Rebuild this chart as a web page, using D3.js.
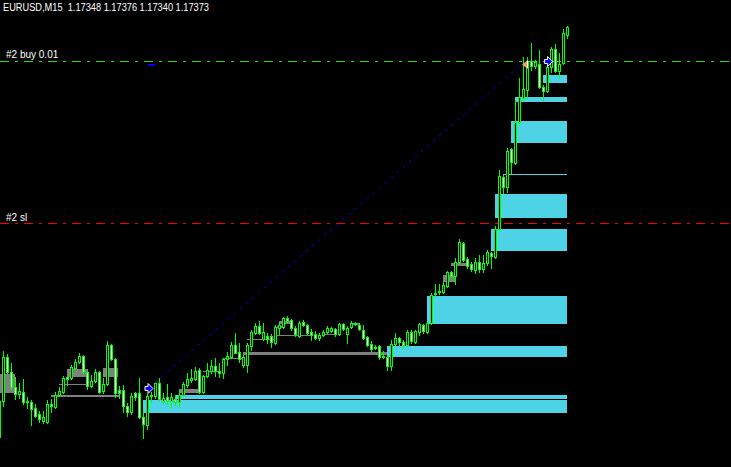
<!DOCTYPE html>
<html>
<head>
<meta charset="utf-8">
<script src="https://cdn.jsdelivr.net/npm/d3@7"></script>
<style>
  html, body { margin: 0; padding: 0; background: #000; overflow: hidden; }
  text { font-family: "Liberation Sans", Arial, sans-serif; white-space: pre; }
</style>
</head>
<body>
<div id="chart"></div>
<script>
// EURUSD M15 candles, first entry is the bar cut off at the left edge (index -1).
const opens = [1.16143,
  1.16251,1.16383,1.16338,1.16293,1.16272,1.16278,1.16248,1.16248,1.16230,1.16212,
  1.16191,1.16188,1.16242,1.16233,1.16269,1.16278,1.16323,1.16320,1.16350,1.16368,
  1.16386,1.16338,1.16296,1.16311,1.16338,1.16281,1.16302,1.16419,1.16377,1.16284,
  1.16284,1.16236,1.16218,1.16275,1.16275,1.16203,1.16179,1.16266,1.16266,1.16305,
  1.16251,1.16263,1.16251,1.16257,1.16248,1.16269,1.16299,1.16314,1.16317,1.16344,
  1.16278,1.16326,1.16341,1.16356,1.16341,1.16335,1.16377,1.16383,1.16419,1.16398,
  1.16359,1.16359,1.16416,1.16455,1.16476,1.16437,1.16446,1.16446,1.16425,1.16470,
  1.16473,1.16500,1.16494,1.16470,1.16446,1.16488,1.16479,1.16458,1.16452,1.16440,
  1.16449,1.16458,1.16461,1.16467,1.16452,1.16482,1.16452,1.16473,1.16485,1.16479,
  1.16464,1.16443,1.16422,1.16413,1.16416,1.16383,1.16383,1.16356,1.16422,1.16440,
  1.16428,1.16419,1.16458,1.16428,1.16458,1.16479,1.16458,1.16485,1.16572,1.16578,
  1.16578,1.16596,1.16638,1.16626,1.16668,1.16725,1.16677,1.16662,1.16644,1.16668,
  1.16647,1.16665,1.16695,1.16683,1.16767,1.16923,1.16893,1.17007,1.16965,1.17088,
  1.17160,1.17184,1.17271,1.17256,1.17262,1.17193,1.17181,1.17253,1.17307,1.17241,
  1.17265,1.17348];
const highs = [1.16254,
  1.16401,1.16392,1.16365,1.16323,1.16305,1.16317,1.16263,1.16254,1.16242,1.16221,
  1.16221,1.16254,1.16257,1.16278,1.16293,1.16326,1.16326,1.16359,1.16377,1.16395,
  1.16389,1.16341,1.16329,1.16347,1.16341,1.16320,1.16431,1.16422,1.16380,1.16296,
  1.16299,1.16245,1.16275,1.16278,1.16320,1.16215,1.16272,1.16278,1.16308,1.16320,
  1.16275,1.16302,1.16275,1.16269,1.16284,1.16308,1.16335,1.16347,1.16353,1.16350,
  1.16329,1.16365,1.16374,1.16380,1.16365,1.16380,1.16398,1.16428,1.16455,1.16425,
  1.16389,1.16425,1.16464,1.16485,1.16491,1.16485,1.16455,1.16452,1.16479,1.16488,
  1.16503,1.16506,1.16497,1.16476,1.16491,1.16494,1.16482,1.16467,1.16461,1.16455,
  1.16464,1.16476,1.16473,1.16470,1.16485,1.16485,1.16476,1.16491,1.16488,1.16485,
  1.16479,1.16446,1.16431,1.16419,1.16419,1.16401,1.16386,1.16434,1.16455,1.16443,
  1.16434,1.16464,1.16464,1.16464,1.16485,1.16482,1.16488,1.16575,1.16602,1.16602,
  1.16608,1.16641,1.16641,1.16680,1.16737,1.16728,1.16683,1.16668,1.16680,1.16689,
  1.16689,1.16704,1.16698,1.16776,1.16944,1.16929,1.17010,1.17010,1.17154,1.17220,
  1.17283,1.17283,1.17325,1.17274,1.17304,1.17199,1.17256,1.17313,1.17322,1.17295,
  1.17367,1.17376];
const lows = [1.16140,
  1.16236,1.16335,1.16287,1.16257,1.16260,1.16242,1.16230,1.16179,1.16203,1.16188,
  1.16185,1.16185,1.16218,1.16230,1.16266,1.16275,1.16299,1.16317,1.16347,1.16365,
  1.16335,1.16287,1.16293,1.16308,1.16275,1.16275,1.16299,1.16374,1.16263,1.16260,
  1.16218,1.16206,1.16212,1.16254,1.16200,1.16140,1.16167,1.16248,1.16260,1.16254,
  1.16245,1.16242,1.16233,1.16239,1.16233,1.16266,1.16293,1.16308,1.16314,1.16275,
  1.16275,1.16323,1.16335,1.16326,1.16323,1.16320,1.16359,1.16380,1.16395,1.16368,
  1.16353,1.16338,1.16404,1.16452,1.16452,1.16434,1.16425,1.16413,1.16422,1.16452,
  1.16470,1.16488,1.16464,1.16446,1.16443,1.16476,1.16452,1.16434,1.16437,1.16434,
  1.16446,1.16455,1.16458,1.16446,1.16449,1.16464,1.16425,1.16470,1.16479,1.16464,
  1.16437,1.16416,1.16401,1.16407,1.16377,1.16380,1.16344,1.16344,1.16419,1.16419,
  1.16410,1.16416,1.16425,1.16425,1.16449,1.16455,1.16455,1.16482,1.16566,1.16572,
  1.16575,1.16593,1.16623,1.16602,1.16665,1.16671,1.16650,1.16641,1.16635,1.16638,
  1.16638,1.16659,1.16650,1.16680,1.16764,1.16875,1.16878,1.16935,1.16962,1.17085,
  1.17154,1.17160,1.17244,1.17250,1.17190,1.17154,1.17178,1.17238,1.17238,1.17223,
  1.17262,1.17340];
const closes = [1.16251,
  1.16383,1.16338,1.16293,1.16272,1.16281,1.16248,1.16251,1.16227,1.16206,1.16197,
  1.16203,1.16242,1.16236,1.16269,1.16281,1.16320,1.16317,1.16353,1.16368,1.16386,
  1.16338,1.16296,1.16311,1.16338,1.16278,1.16302,1.16419,1.16377,1.16275,1.16275,
  1.16236,1.16218,1.16266,1.16263,1.16203,1.16182,1.16266,1.16269,1.16305,1.16257,
  1.16260,1.16251,1.16263,1.16248,1.16269,1.16302,1.16317,1.16320,1.16341,1.16278,
  1.16326,1.16344,1.16356,1.16341,1.16335,1.16377,1.16386,1.16419,1.16395,1.16377,
  1.16383,1.16419,1.16458,1.16476,1.16455,1.16458,1.16437,1.16428,1.16473,1.16479,
  1.16500,1.16491,1.16470,1.16452,1.16485,1.16479,1.16455,1.16449,1.16440,1.16449,
  1.16458,1.16470,1.16470,1.16452,1.16482,1.16467,1.16470,1.16485,1.16482,1.16467,
  1.16440,1.16419,1.16407,1.16410,1.16383,1.16386,1.16356,1.16422,1.16440,1.16428,
  1.16419,1.16458,1.16431,1.16461,1.16482,1.16461,1.16485,1.16569,1.16575,1.16581,
  1.16599,1.16638,1.16626,1.16668,1.16728,1.16674,1.16656,1.16647,1.16668,1.16647,
  1.16665,1.16698,1.16686,1.16767,1.16926,1.16893,1.17001,1.16968,1.17088,1.17163,
  1.17187,1.17271,1.17256,1.17268,1.17193,1.17181,1.17253,1.17307,1.17241,1.17262,
  1.17355,1.17373];

// Zones as [first bar, last bar, top price, bottom price]
const cyanZones = [
  [127, 141, 1.17091, 1.17025],
  [128, 141, 1.17163, 1.17148],
  [135, 141, 1.17229, 1.17205],
  [125, 141, 1.16933, 1.16930],
  [123, 141, 1.16872, 1.16800],
  [122, 141, 1.16767, 1.16701],
  [106, 141, 1.16566, 1.16482],
  [96, 141, 1.16416, 1.16383],
  [43, 141, 1.16269, 1.16257],
  [35, 141, 1.16254, 1.16215]
];
const grayZones = [
  [-0.75, 3, 1.16332, 1.16275],
  [16, 21.25, 1.16347, 1.16323],
  [14, 21.25, 1.16302, 1.16299],
  [12, 29, 1.16269, 1.16263],
  [25, 28.75, 1.16350, 1.16323],
  [44, 49, 1.16287, 1.16275],
  [50, 53.75, 1.16341, 1.16338],
  [55, 60.5, 1.16380, 1.16377],
  [60, 96, 1.16398, 1.16389],
  [61, 68.5, 1.16437, 1.16434],
  [68, 77, 1.16449, 1.16446],
  [68.5, 70, 1.16476, 1.16470],
  [69, 72.5, 1.16491, 1.16482],
  [80, 83.5, 1.16452, 1.16449],
  [86.75, 89.25, 1.16485, 1.16479],
  [110, 113.25, 1.16629, 1.16608],
  [112, 116, 1.16665, 1.16656]
];

// Trades: closed #1 (entry -> exit) and the open #2 buy with its stop loss.
const entryBar = 36.5, entryPrice = 1.16290;
const exitBar = 130.5, exitPrice = 1.17262;
const tpMark = [36.25, 38, 1.17262];
const buyBar = 136.4, buyPrice = 1.17271;
const slPrice = 1.16785;

const titleText = "EURUSD,M15  1.17348 1.17376 1.17340 1.17373";
const buyLabel = "#2 buy 0.01";
const slLabel = "#2 sl";

const width = 731, height = 467;

const svg = d3.select("#chart").append("svg")
    .attr("width", width)
    .attr("height", height)
    .style("display", "block")
    .style("background", "#000");

// bar index -> pixel center, price -> pixel row
const x = d3.scaleLinear().domain([0, 141]).range([3, 567]);
const y = d3.scaleLinear().domain([1.16053, 1.17454]).range([height, 0]);

const px = v => Math.round(x(v));
const py = v => Math.round(y(v));

// zone rectangles (gray first, cyan on top)
function drawZones(zones, color) {
    svg.append("g")
        .attr("shape-rendering", "crispEdges")
        .selectAll("rect")
        .data(zones)
        .join("rect")
        .attr("x", d => px(d[0]))
        .attr("y", d => py(d[2]))
        .attr("width", d => px(d[1]) - px(d[0]))
        .attr("height", d => Math.max(1, py(d[3]) - py(d[2])))
        .attr("fill", color);
}
drawZones(grayZones, "#808080");
drawZones(cyanZones, "#4dd2e6");

// order level lines (dash-dot)
function levelLine(price, color) {
    svg.append("line")
        .attr("x1", 0).attr("x2", width)
        .attr("y1", py(price) + 0.5).attr("y2", py(price) + 0.5)
        .attr("stroke", color)
        .attr("stroke-width", 1)
        .attr("stroke-dasharray", "9,6,3,6")
        .attr("shape-rendering", "crispEdges");
}
levelLine(buyPrice, "#22dd22");
levelLine(slPrice, "#ff0000");

// candles
const bars = opens.map((o, i) => ({
    k: i - 1, o: o, h: highs[i], l: lows[i], c: closes[i]
}));

const gC = svg.append("g").attr("shape-rendering", "crispEdges");

gC.selectAll("line.wick")
    .data(bars)
    .join("line")
    .attr("class", "wick")
    .attr("x1", d => px(d.k) + 0.5)
    .attr("x2", d => px(d.k) + 0.5)
    .attr("y1", d => py(d.h))
    .attr("y2", d => py(d.l) + 1)
    .attr("stroke", "#00ff00");

gC.selectAll("rect.body")
    .data(bars)
    .join("rect")
    .attr("class", "body")
    .attr("x", d => px(d.k) - 0.5)
    .attr("y", d => Math.min(py(d.o), py(d.c)) + 0.5)
    .attr("width", 2)
    .attr("height", d => Math.abs(py(d.o) - py(d.c)))
    .attr("fill", d => d.c > d.o ? "#000000" : "#ffffff")
    .attr("stroke", "#00ff00");

// dotted connection of the closed trade
svg.append("line")
    .attr("x1", x(entryBar)).attr("y1", y(entryPrice))
    .attr("x2", x(exitBar) - 3).attr("y2", y(exitPrice))
    .attr("stroke", "#0000ff")
    .attr("stroke-width", 1)
    .attr("stroke-dasharray", "3,5");

// small blue mark at the exit level
svg.append("line")
    .attr("x1", px(tpMark[0])).attr("x2", px(tpMark[1]))
    .attr("y1", py(tpMark[2]) + 1).attr("y2", py(tpMark[2]) + 1)
    .attr("stroke", "#0000ff")
    .attr("stroke-width", 2)
    .attr("shape-rendering", "crispEdges");

// buy arrows (blue with white outline)
function buyArrow(bar, price) {
    const cx = x(bar), cy = py(price) + 0.5;
    const p = d3.path();
    p.moveTo(cx - 4, cy - 2);
    p.lineTo(cx - 1, cy - 2);
    p.lineTo(cx - 1, cy - 5);
    p.lineTo(cx + 4, cy);
    p.lineTo(cx - 1, cy + 5);
    p.lineTo(cx - 1, cy + 2);
    p.lineTo(cx - 4, cy + 2);
    p.closePath();
    svg.append("path")
        .attr("d", p.toString())
        .attr("fill", "#0000ff")
        .attr("stroke", "#ffffff")
        .attr("stroke-width", 1);
}
buyArrow(entryBar, entryPrice);
buyArrow(buyBar, buyPrice);

// exit marker: orange left triangle with a white edge
{
    const cx = x(exitBar), cy = py(exitPrice) + 0.5;
    svg.append("path")
        .attr("d", d3.line()([[cx - 3, cy], [cx + 2, cy - 4], [cx + 2, cy + 4]]) + "Z")
        .attr("fill", "#e4a45c");
    svg.append("line")
        .attr("x1", cx + 2.5).attr("x2", cx + 2.5)
        .attr("y1", cy - 4).attr("y2", cy + 4)
        .attr("stroke", "#ffffff");
}

// texts
svg.append("text")
    .attr("x", 3).attr("y", 11)
    .attr("fill", "#ffffff")
    .attr("font-size", "10px")
    .attr("textLength", 206)
    .attr("lengthAdjust", "spacingAndGlyphs")
    .text(titleText);

svg.append("text")
    .attr("x", 6).attr("y", py(buyPrice) - 3)
    .attr("fill", "#ffffff")
    .attr("font-size", "10px")
    .text(buyLabel);

svg.append("text")
    .attr("x", 6).attr("y", py(slPrice) - 2)
    .attr("fill", "#ffffff")
    .attr("font-size", "10px")
    .text(slLabel);
</script>
</body>
</html>
